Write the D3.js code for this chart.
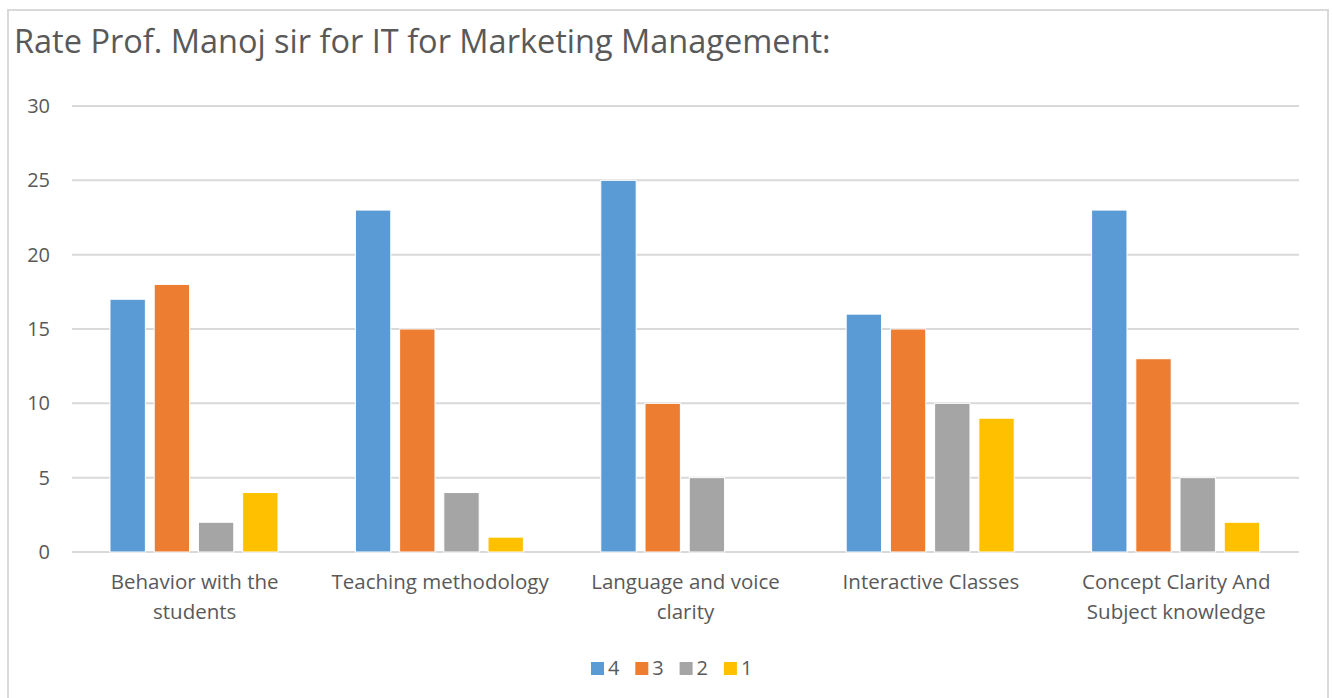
<!DOCTYPE html>
<html>
<head>
<meta charset="utf-8">
<script src="https://cdn.jsdelivr.net/npm/d3@7"></script>
<style>
  body { margin: 0; background: #fff; }
  text { font-family: "Open Sans", "Noto Sans", sans-serif; fill: #595959; }
</style>
</head>
<body>
<div id="chart"></div>
<script>
var width = 1333;
var height = 698;

const categories = [
  ["Behavior with the", "students"],
  ["Teaching methodology"],
  ["Language and voice", "clarity"],
  ["Interactive Classes"],
  ["Concept Clarity And", "Subject knowledge"]
];
const seriesNames = ["4", "3", "2", "1"];
const colors = ["#5B9BD5", "#ED7D31", "#A5A5A5", "#FFC000"];
const s4 = [17, 23, 25, 16, 23];
const s3 = [18, 15, 10, 15, 13];
const s2 = [2, 4, 5, 10, 5];
const s1 = [4, 1, 0, 9, 2];
const yTicks = [0, 5, 10, 15, 20, 25, 30];

const allSeries = [s4, s3, s2, s1];

var plotLeft = 72, plotRight = 1299, plotTop = 106, plotBottom = 552;

const svg = d3.select("#chart")
  .append("svg")
  .attr("width", width)
  .attr("height", height);

// outer border
svg.append("rect")
  .attr("x", 8).attr("y", 10)
  .attr("width", 1320).attr("height", 700)
  .attr("fill", "#fff")
  .attr("stroke", "#d9d9d9")
  .attr("stroke-width", 2);

svg.append("text")
  .attr("x", 14).attr("y", 53)
  .attr("font-size", 32.5)
  .text("Rate Prof. Manoj sir for IT for Marketing Management:");

const x0 = d3.scaleBand().domain(d3.range(categories.length)).range([plotLeft, plotRight]);
const x1 = d3.scaleBand().domain(d3.range(seriesNames.length))
  .range([38, 206]).paddingInner(0.2).paddingOuter(0);
const y = d3.scaleLinear().domain([0, 30]).range([plotBottom, plotTop]);

// gridlines
svg.append("g").selectAll("line")
  .data(yTicks)
  .join("line")
  .attr("x1", plotLeft).attr("x2", plotRight)
  .attr("y1", d => y(d)).attr("y2", d => y(d))
  .attr("stroke", "#d9d9d9")
  .attr("stroke-width", 2);

svg.append("g").selectAll("text")
  .data(yTicks)
  .join("text")
  .attr("x", 50)
  .attr("y", d => y(d) + 7)
  .attr("text-anchor", "end")
  .attr("font-size", 20)
  .text(d => d);

// bars
const groups = svg.append("g").selectAll("g")
  .data(categories)
  .join("g")
  .attr("transform", (d, i) => "translate(" + x0(i) + ",0)");

groups.selectAll("rect")
  .data((d, i) => allSeries.map((s, j) => ({ j: j, v: s[i] })))
  .join("rect")
  .filter(d => d.v > 0)
  .attr("x", d => x1(d.j))
  .attr("width", x1.bandwidth())
  .attr("y", d => y(d.v))
  .attr("height", d => y(0) - y(d.v))
  .attr("fill", d => colors[d.j])
  .attr("stroke", "#fff")
  .attr("stroke-width", 1);

// category labels
groups.each(function(lines) {
  const t = d3.select(this).append("text")
    .attr("x", x0.bandwidth() / 2)
    .attr("y", 589)
    .attr("text-anchor", "middle")
    .attr("font-size", 20.5);
  lines.forEach((ln, k) => {
    t.append("tspan").attr("x", x0.bandwidth() / 2).attr("dy", k ? 30 : 0).text(ln);
  });
});

// legend
const legend = svg.append("g").selectAll("g")
  .data(seriesNames)
  .join("g")
  .attr("transform", (d, i) => "translate(" + (591 + i * 44.3) + ",662)");

legend.append("rect")
  .attr("width", 13).attr("height", 13)
  .attr("fill", (d, i) => colors[i]);

legend.append("text")
  .attr("x", 17).attr("y", 13)
  .attr("font-size", 20)
  .text(d => d);
</script>
</body>
</html>
